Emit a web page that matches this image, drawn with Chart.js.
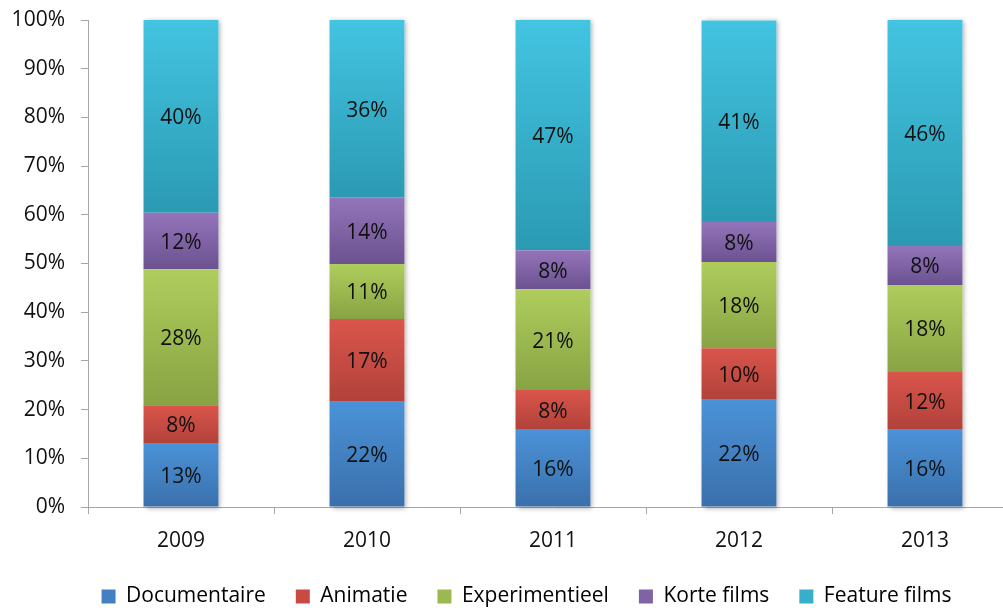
<!DOCTYPE html>
<html>
<head>
<meta charset="utf-8">
<script src="https://cdn.jsdelivr.net/npm/chart.js@4/dist/chart.umd.min.js"></script>
<style>
  html, body { margin: 0; padding: 0; background: #fff; overflow: hidden; }
  #wrap { width: 1018px; height: 608px; }
</style>
</head>
<body>
<div id="wrap"><canvas id="c" width="1018" height="608"></canvas></div>
<script>
const years = ['2009', '2010', '2011', '2012', '2013'];
const seriesNames = ['Documentaire', 'Animatie', 'Experimentieel', 'Korte films', 'Feature films'];
const documentaire   = [13.0, 21.6, 16.0, 22.2, 16.0];
const animatie       = [7.9, 17.0, 8.0, 10.4, 11.7];
const experimentieel = [27.9, 11.3, 20.7, 17.7, 17.9];
const korteFilms     = [11.6, 13.7, 8.0, 8.2, 8.0];
const featureFilms   = [39.6, 36.4, 47.3, 41.4, 46.4];
const yTickLabels = ['0%', '10%', '20%', '30%', '40%', '50%', '60%', '70%', '80%', '90%', '100%'];

const series = [documentaire, animatie, experimentieel, korteFilms, featureFilms];
const topColors = ['#4b92d8', '#da554c', '#afcd5d', '#9474ba', '#43c4e1'];
const botColors = ['#3a70ab', '#b1423a', '#88a343', '#6b5290', '#2b9ab3'];
const midColors = ['#4380c2', '#c84b43', '#9cb850', '#8063a5', '#37afca'];

const FONT = "'Open Sans', sans-serif";

function gradFor(i) {
  return (c) => {
    const chart = c.chart;
    if (c.type !== 'data' || !chart.chartArea) return midColors[i];
    const y = chart.scales.y;
    let start = 0;
    for (let k = 0; k < i; k++) start += series[k][c.dataIndex];
    const end = start + series[i][c.dataIndex];
    const y0 = y.getPixelForValue(Math.min(end, 100));
    const y1 = y.getPixelForValue(start);
    const g = chart.ctx.createLinearGradient(0, y0, 0, y1);
    g.addColorStop(0, topColors[i]);
    g.addColorStop(1, botColors[i]);
    return g;
  };
}

const shadowPlugin = {
  id: 'barShadow',
  beforeDatasetsDraw(chart) {
    const ctx = chart.ctx;
    const metas = chart.getSortedVisibleDatasetMetas();
    const first = metas[0], last = metas[metas.length - 1];
    ctx.save();
    ctx.shadowColor = 'rgba(0,0,0,0.35)';
    ctx.shadowBlur = 5;
    ctx.shadowOffsetX = 2;
    ctx.shadowOffsetY = 1;
    ctx.fillStyle = '#ffffff';
    first.data.forEach((el, j) => {
      const topEl = last.data[j];
      const w = el.width;
      ctx.fillRect(el.x - w / 2, topEl.y, w, el.base - topEl.y);
    });
    ctx.restore();
  }
};

const labelPlugin = {
  id: 'segLabels',
  afterDatasetsDraw(chart) {
    const ctx = chart.ctx;
    ctx.save();
    ctx.font = "21px " + FONT;
    ctx.fillStyle = '#111111';
    ctx.textAlign = 'center';
    ctx.textBaseline = 'middle';
    chart.getSortedVisibleDatasetMetas().forEach((meta) => {
      const vals = series[meta.index];
      meta.data.forEach((el, j) => {
        const txt = Math.round(vals[j]) + '%';
        ctx.fillText(txt, el.x, (el.y + el.base) / 2 + 2);
      });
    });
    ctx.restore();
  }
};

const legendShift = {
  id: 'legendShift',
  afterLayout(chart) {
    if (chart.legend) { chart.legend.left += 17.5; chart.legend.right += 17.5; }
  }
};

const datasets = series.map((vals, i) => ({
  label: seriesNames[i],
  data: vals,
  backgroundColor: gradFor(i),
  borderWidth: 0,
  barPercentage: 0.403,
  categoryPercentage: 1.0
}));

new Chart(document.getElementById('c'), {
  type: 'bar',
  data: { labels: years, datasets },
  plugins: [shadowPlugin, labelPlugin, legendShift],
  options: {
    responsive: false,
    animation: false,
    events: [],
    layout: { padding: { top: 20, right: 0, bottom: -9, left: 0 } },
    plugins: {
      tooltip: { enabled: false },
      legend: {
        position: 'bottom',
        labels: {
          font: { family: FONT, size: 21 },
          color: '#111111',
          boxWidth: 14,
          boxHeight: 14,
          padding: 30,
          generateLabels: (chart) => seriesNames.map((n, i) => ({
            text: n, fillStyle: midColors[i], strokeStyle: midColors[i], lineWidth: 0, datasetIndex: i, hidden: false
          }))
        }
      }
    },
    scales: {
      x: {
        stacked: true,
        grid: { display: true, drawOnChartArea: false, drawTicks: true, tickLength: 7, color: '#a6a6a6', offset: true },
        border: { display: true, color: '#a6a6a6', width: 1 },
        ticks: { font: { family: FONT, size: 21 }, color: '#111111', padding: 14, maxRotation: 0 },
        afterFit: (s) => { s.height = 49; s.paddingLeft = 0; s.paddingRight = 0; }
      },
      y: {
        stacked: true,
        min: 0, max: 100,
        grid: { display: true, drawOnChartArea: false, drawTicks: true, tickLength: 7, color: '#a6a6a6' },
        border: { display: true, color: '#a6a6a6', width: 1 },
        ticks: { font: { family: FONT, size: 21 }, color: '#111111', padding: 16, stepSize: 10,
                 callback: (v, idx) => yTickLabels[idx] },
        afterFit: (s) => { s.width = 88; s.paddingTop = 0; s.paddingBottom = 0; }
      }
    }
  }
});
</script>
</body>
</html>
